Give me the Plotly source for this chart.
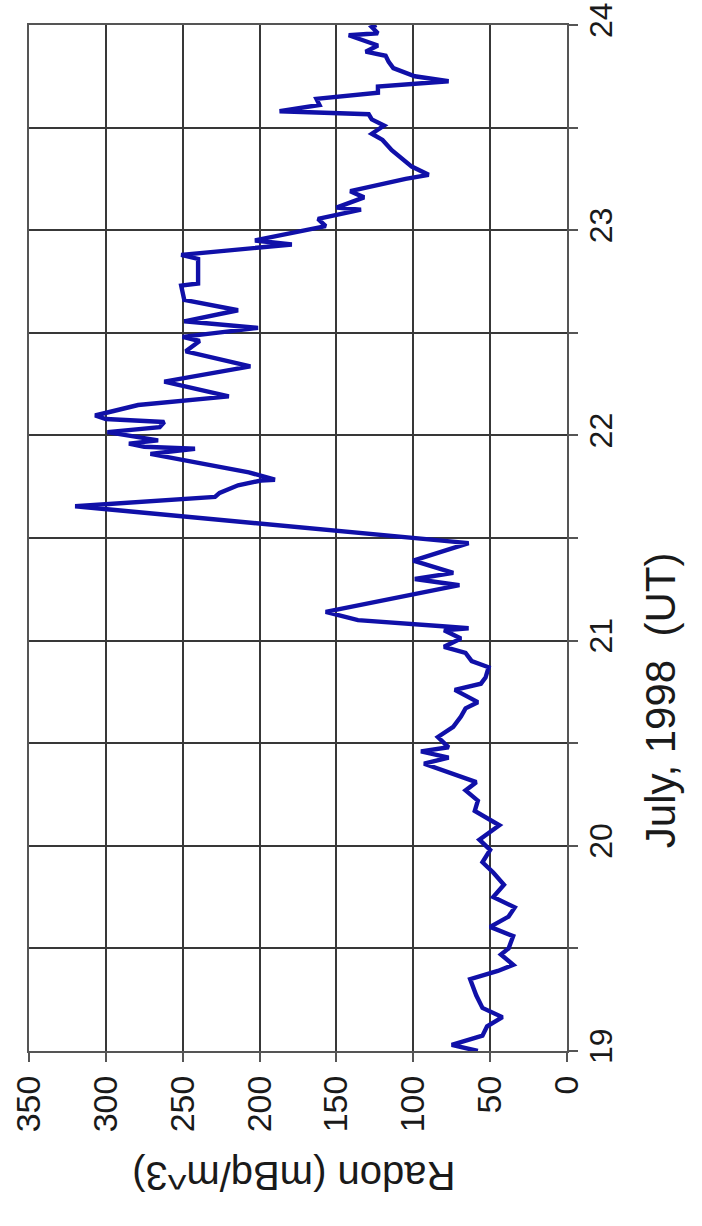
import plotly.graph_objects as go

# Day of July 1998 (UT)
days = [19.00, 19.03, 19.075, 19.12, 19.165, 19.21, 19.27, 19.35, 19.39, 19.42,
        19.47, 19.50, 19.56, 19.605, 19.655, 19.70, 19.75, 19.81, 19.87, 19.92,
        19.98, 20.03, 20.10, 20.12, 20.17, 20.22, 20.27, 20.31, 20.35, 20.40,
        20.43, 20.46, 20.48, 20.53, 20.58, 20.63, 20.67, 20.70, 20.76, 20.79,
        20.82, 20.87, 20.90, 20.94, 20.97, 21.01, 21.05, 21.06, 21.07, 21.10,
        21.14, 21.27, 21.30, 21.33, 21.39, 21.475, 21.655, 21.70, 21.72, 21.757,
        21.78, 21.784, 21.82, 21.91, 21.935, 21.945, 21.96, 21.976, 22.016, 22.04,
        22.065, 22.08, 22.097, 22.148, 22.19, 22.213, 22.262, 22.336, 22.41, 22.46,
        22.48, 22.524, 22.556, 22.61, 22.66, 22.73, 22.74, 22.86, 22.88, 22.93,
        22.95, 23.02, 23.055, 23.10, 23.11, 23.16, 23.19, 23.25, 23.27, 23.31,
        23.39, 23.44, 23.47, 23.51, 23.54, 23.565, 23.58, 23.61, 23.64, 23.67,
        23.70, 23.726, 23.75, 23.79, 23.82, 23.85, 23.87, 23.90, 23.92, 23.95,
        23.96, 23.99, 24.00]

# Radon concentration (mBq/m^3)
radon = [58, 75, 55, 52, 42, 55, 59, 63, 45, 35,
         43, 38, 35, 50, 38, 34, 48, 41, 48, 55,
         50, 57, 44, 49, 60, 58, 66, 59, 75, 93,
         77, 95, 77, 84, 74, 69, 66, 58, 73, 56,
         53, 51, 62, 66, 80, 69, 80, 64, 81, 136,
         157, 70, 99, 74, 100, 64, 320, 229, 226, 214,
         199, 190, 207, 271, 242, 275, 285, 266, 299, 265,
         262, 300, 307, 279, 220, 234, 262, 206, 248, 239,
         250, 201, 249, 214, 249, 251, 240, 240, 251, 179,
         203, 157, 162, 134, 150, 132, 141, 105, 90, 101,
         114, 120, 127, 119, 127, 129, 187, 161, 163, 123,
         123, 77, 99, 113, 116, 118, 131, 123, 131, 142,
         123, 127, 124]

radon_ticks = [0, 50, 100, 150, 200, 250, 300, 350]
day_ticks = [19, 19.5, 20, 20.5, 21, 21.5, 22, 22.5, 23, 23.5, 24]
day_labels = ["19", "", "20", "", "21", "", "22", "", "23", "", "24"]

radon_title = "Radon (mBq/m^3)"
day_title = "July, 1998\u00a0 (UT)"

FONT = "Liberation Sans, Arial, sans-serif"
GRID = "#383838"
AXIS = "#555555"
TXT = "#1a1a1a"

fig = go.Figure()
fig.add_trace(go.Scatter(
    x=radon, y=days, mode="lines",
    line=dict(color="#1010a8", width=4.4),
    hoverinfo="skip",
))

fig.update_layout(
    width=702, height=1226,
    margin=dict(l=29, r=135, t=25, b=175, autoexpand=False),
    plot_bgcolor="white", paper_bgcolor="white",
    showlegend=False,
    font=dict(family=FONT, color=TXT),
)

fig.update_xaxes(
    range=[350, 0],
    tickvals=radon_ticks,
    tickangle=-90,
    ticks="outside", ticklen=9, tickwidth=2, tickcolor=AXIS,
    ticklabelstandoff=0,
    ticklabeloverflow="allow",
    automargin=False,
    tickfont=dict(family=FONT, size=34, color=TXT),
    showgrid=True, gridcolor=GRID, gridwidth=1.7,
    showline=True, linecolor=AXIS, linewidth=2, mirror=True,
    zeroline=False,
)
fig.update_yaxes(
    range=[19, 24],
    side="right",
    tickvals=day_ticks, ticktext=day_labels,
    tickangle=-90,
    ticks="outside", ticklen=9, tickwidth=2, tickcolor=AXIS,
    ticklabelstandoff=-4,
    ticklabeloverflow="allow",
    automargin=False,
    tickfont=dict(family=FONT, size=32, color=TXT),
    showgrid=True, gridcolor=GRID, gridwidth=1.7,
    showline=True, linecolor=AXIS, linewidth=2, mirror=True,
    zeroline=False,
)

fig.add_annotation(
    text=radon_title, xref="paper", yref="paper",
    x=0.492, y=-0.1216, xanchor="center", yanchor="middle",
    textangle=180, showarrow=False,
    font=dict(family=FONT, size=40, color=TXT),
)
fig.add_annotation(
    text=day_title, xref="paper", yref="paper",
    x=1.173, y=0.342, xanchor="center", yanchor="middle",
    textangle=-90, showarrow=False,
    font=dict(family=FONT, size=42, color=TXT),
)

fig.write_html("out.html")
